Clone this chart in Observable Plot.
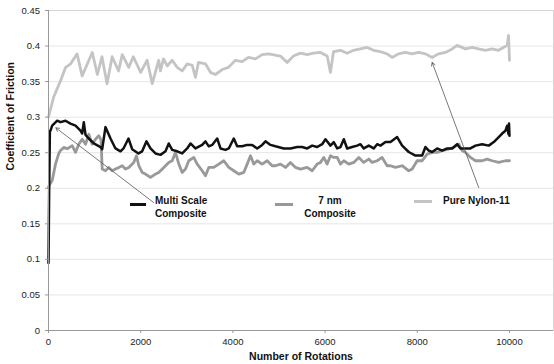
<!DOCTYPE html>
<html>
<head>
<meta charset="utf-8">
<script src="https://cdn.jsdelivr.net/npm/d3@7"></script>
<script src="https://cdn.jsdelivr.net/npm/@observablehq/plot@0.6"></script>
<style>
  html, body { margin: 0; padding: 0; background: #fff; }
  #wrap { position: relative; width: 554px; height: 364px; font-family: "Liberation Sans", Arial, sans-serif; }
  #wrap svg { display: block; }
  .lg { position: absolute; font-size: 10px; font-weight: bold; color: #111; line-height: 13px; white-space: nowrap; }
  .sw { position: absolute; height: 3px; }
</style>
</head>
<body>
<div id="wrap"></div>
<script>
// ---- data ----
const rotationTicks = [0, 2000, 4000, 6000, 8000, 10000];
const cofTicks = [0, 0.05, 0.1, 0.15, 0.2, 0.25, 0.3, 0.35, 0.4, 0.45];
const seriesNames = ["Multi Scale Composite", "7 nm Composite", "Pure Nylon-11"];

// [rotations, coefficient of friction]
const multiScale = [
  [0,0.095],[15,0.2],[30,0.28],[43,0.281],[80,0.288],[189,0.295],[260,0.293],[369,0.295],[477,0.291],
  [586,0.288],[694,0.281],[731,0.277],[766,0.293],[803,0.275],[874,0.27],[983,0.263],[1128,0.258],
  [1165,0.255],[1236,0.286],[1345,0.27],[1453,0.256],[1562,0.252],[1627,0.256],[1735,0.27],[1815,0.255],
  [1952,0.249],[2032,0.252],[2126,0.266],[2212,0.256],[2321,0.249],[2429,0.247],[2538,0.252],[2609,0.263],
  [2683,0.254],[2792,0.252],[2900,0.249],[3008,0.256],[3080,0.263],[3188,0.256],[3334,0.261],[3405,0.266],
  [3477,0.259],[3551,0.261],[3659,0.27],[3731,0.256],[3839,0.254],[3911,0.256],[4019,0.27],[4093,0.259],
  [4201,0.259],[4310,0.261],[4418,0.261],[4527,0.256],[4635,0.261],[4707,0.266],[4815,0.261],[4924,0.259],
  [5104,0.256],[5249,0.256],[5394,0.258],[5503,0.258],[5611,0.256],[5720,0.26],[5828,0.258],[5937,0.262],
  [6008,0.269],[6117,0.26],[6188,0.265],[6262,0.256],[6334,0.258],[6406,0.269],[6479,0.256],[6587,0.258],
  [6696,0.26],[6767,0.262],[6839,0.256],[6948,0.26],[7056,0.256],[7129,0.262],[7201,0.26],[7310,0.265],
  [7418,0.265],[7563,0.272],[7672,0.26],[7815,0.251],[7960,0.246],[8106,0.246],[8177,0.258],[8249,0.253],
  [8323,0.251],[8431,0.256],[8540,0.253],[8648,0.256],[8757,0.256],[8865,0.262],[8937,0.256],[9045,0.256],
  [9153,0.256],[9262,0.26],[9407,0.262],[9550,0.26],[9659,0.265],[9767,0.272],[9841,0.277],[9913,0.281],
  [9950,0.288],[9980,0.276],[9990,0.291],[10000,0.274]
];
const nm7 = [
  [0,0.201],[20,0.205],[80,0.211],[152,0.234],[223,0.249],[260,0.253],[332,0.2575],[406,0.2555],[514,0.26],
  [586,0.2505],[657,0.262],[731,0.269],[803,0.262],[874,0.276],[948,0.262],[1019,0.269],[1091,0.274],
  [1139,0.268],[1165,0.227],[1236,0.2246],[1308,0.2293],[1382,0.2246],[1453,0.227],[1525,0.2293],
  [1599,0.2317],[1670,0.227],[1742,0.2293],[1850,0.2364],[1909,0.2458],[1959,0.2317],[2032,0.2223],
  [2104,0.22],[2212,0.2153],[2321,0.22],[2392,0.2223],[2501,0.2293],[2609,0.2364],[2683,0.2387],
  [2755,0.2505],[2827,0.234],[2900,0.2223],[2972,0.227],[3043,0.2387],[3152,0.2434],[3226,0.234],
  [3334,0.2246],[3405,0.2176],[3477,0.2293],[3585,0.2293],[3694,0.234],[3803,0.2387],[3911,0.2293],
  [4019,0.2246],[4128,0.22],[4236,0.2223],[4310,0.234],[4381,0.2458],[4453,0.234],[4527,0.2387],
  [4635,0.234],[4744,0.2387],[4852,0.2317],[4924,0.2317],[5032,0.234],[5141,0.2293],[5249,0.2364],
  [5358,0.2293],[5466,0.227],[5611,0.2293],[5720,0.2246],[5828,0.234],[5900,0.2364],[5972,0.2434],
  [6045,0.234],[6117,0.2458],[6188,0.2434],[6262,0.2434],[6334,0.234],[6406,0.2387],[6514,0.234],
  [6622,0.2364],[6731,0.2434],[6839,0.2364],[6948,0.2411],[7020,0.2364],[7129,0.2387],[7237,0.2434],
  [7346,0.2317],[7418,0.2317],[7527,0.2293],[7672,0.2317],[7815,0.2246],[7889,0.227],[7997,0.2387],
  [8106,0.2387],[8214,0.2481],[8323,0.2505],[8431,0.2505],[8540,0.2528],[8683,0.2552],[8792,0.2575],
  [8900,0.2622],[8974,0.2528],[9045,0.2505],[9153,0.2434],[9262,0.2387],[9407,0.2387],[9515,0.2411],
  [9624,0.2387],[9767,0.2364],[9913,0.2387],[10000,0.2387]
];
const pureNylon = [
  [0,0.3],[110,0.328],[260,0.351],[370,0.37],[480,0.375],[620,0.389],[730,0.358],[950,0.391],[1060,0.36],
  [1160,0.385],[1270,0.347],[1380,0.385],[1520,0.365],[1600,0.388],[1740,0.37],[1840,0.385],[2000,0.363],
  [2140,0.38],[2250,0.347],[2390,0.38],[2429,0.365],[2494,0.382],[2575,0.372],[2683,0.38],[2792,0.37],
  [2900,0.365],[3008,0.375],[3117,0.373],[3188,0.356],[3253,0.377],[3405,0.375],[3514,0.363],[3622,0.36],
  [3768,0.367],[3904,0.37],[4056,0.38],[4201,0.378],[4338,0.384],[4490,0.382],[4635,0.388],[4772,0.389],
  [5032,0.386],[5177,0.377],[5314,0.386],[5466,0.39],[5611,0.388],[5748,0.39],[5900,0.391],[6045,0.386],
  [6117,0.363],[6182,0.392],[6334,0.394],[6479,0.39],[6615,0.394],[6767,0.396],[6913,0.398],[7049,0.394],
  [7201,0.392],[7346,0.389],[7455,0.384],[7592,0.389],[7743,0.391],[7889,0.389],[8025,0.391],[8177,0.389],
  [8323,0.384],[8459,0.389],[8611,0.391],[8757,0.396],[8865,0.401],[9045,0.396],[9190,0.398],[9327,0.396],
  [9479,0.394],[9624,0.396],[9761,0.394],[9869,0.398],[9950,0.401],[9980,0.415],[10000,0.38]
];
// annotation arrows: [fromRot, fromCof, toRot, toCof]
const arrows = [
  [2280, 0.180, 160, 0.285],
  [9333, 0.201, 8323, 0.377]
];

// ---- chart ----
const colors = { "Multi Scale Composite": "#111111", "7 nm Composite": "#999999", "Pure Nylon-11": "#c4c4c4" };
const arrowData = arrows.map(([x1, y1, x2, y2]) => ({ x1, y1, x2, y2 }));

const chart = Plot.plot({
  width: 554,
  height: 364,
  marginLeft: 48,
  marginRight: 1,
  marginTop: 10,
  marginBottom: 34,
  style: { fontFamily: "Liberation Sans, Arial, sans-serif", background: "#fff", color: "#222" },
  x: { domain: [0, 10955] },
  y: { domain: [0, 0.45] },
  marks: [
    Plot.gridY(cofTicks, { stroke: "#e6e6e6", strokeOpacity: 1 }),
    Plot.frame({ stroke: "#d6d6d6" }),
    Plot.line(nm7, { x: d => d[0], y: d => d[1], stroke: colors["7 nm Composite"], strokeWidth: 2.8, strokeLinejoin: "round" }),
    Plot.line(multiScale, { x: d => d[0], y: d => d[1], stroke: colors["Multi Scale Composite"], strokeWidth: 2.5, strokeLinejoin: "round" }),
    Plot.line(pureNylon, { x: d => d[0], y: d => d[1], stroke: colors["Pure Nylon-11"], strokeWidth: 2.8, strokeLinejoin: "round" }),
    Plot.arrow(arrowData, { x1: "x1", y1: "y1", x2: "x2", y2: "y2", stroke: "#555", strokeWidth: 0.8, headLength: 7 }),
    Plot.ruleY([0], { stroke: "#999" }),
    Plot.ruleX([0], { stroke: "#999" }),
    Plot.axisY(cofTicks, { tickSize: 3, tickPadding: 5.5, stroke: "#999", fontSize: 9.5, tickFormat: d => String(+d.toFixed(2)), label: null }),
    Plot.axisX(rotationTicks, { tickSize: 3, tickPadding: 5, stroke: "#999", fontSize: 9.5, tickFormat: d => String(d), label: null }),
    Plot.text(["Coefficient of Friction"], { text: d => d, frameAnchor: "left", rotate: -90, dx: -38, fontWeight: "bold", fontSize: 10.5, fill: "#111" }),
    Plot.text(["Number of Rotations"], { text: d => d, frameAnchor: "bottom", dy: 29, fontWeight: "bold", fontSize: 10.5, fill: "#111" })
  ]
});

const wrap = document.getElementById("wrap");
wrap.appendChild(chart);

// legend (drawn in-plot like the reference)
const legendItems = [
  { name: seriesNames[0], lines: ["Multi Scale", "Composite"], sw: { left: 130, top: 202.5, width: 16 }, text: { left: 155, top: 194, align: "left" } },
  { name: seriesNames[1], lines: ["7 nm", "Composite"], sw: { left: 275, top: 202.5, width: 18 }, text: { left: 300, top: 194, align: "center", width: 60 } },
  { name: seriesNames[2], lines: ["Pure Nylon-11"], sw: { left: 414, top: 199.5, width: 18 }, text: { left: 443, top: 194, align: "left" } }
];
for (const it of legendItems) {
  const sw = document.createElement("div");
  sw.className = "sw";
  sw.style.left = it.sw.left + "px";
  sw.style.top = it.sw.top + "px";
  sw.style.width = it.sw.width + "px";
  sw.style.background = colors[it.name];
  wrap.appendChild(sw);
  const tx = document.createElement("div");
  tx.className = "lg";
  tx.style.left = it.text.left + "px";
  tx.style.top = it.text.top + "px";
  tx.style.textAlign = it.text.align;
  if (it.text.width) tx.style.width = it.text.width + "px";
  tx.innerHTML = it.lines.join("<br>");
  wrap.appendChild(tx);
}
</script>
</body>
</html>
